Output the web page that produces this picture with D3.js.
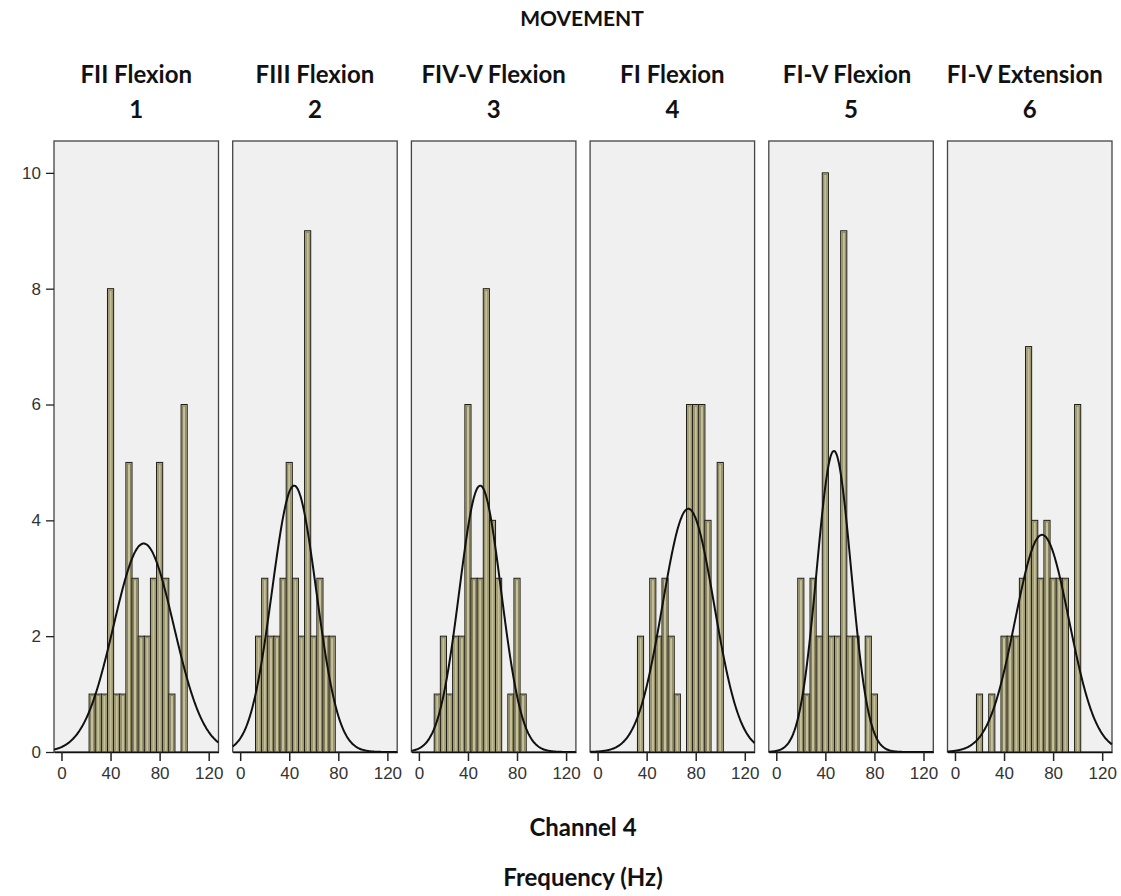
<!DOCTYPE html>
<html><head><meta charset="utf-8">
<script src="https://cdn.jsdelivr.net/npm/d3@7"></script>
<style>body{margin:0;background:#fff}</style>
</head><body>
<svg id="chart" width="1121" height="896"></svg>
<script>
// ---- data ----
const categories = ["FII Flexion","FIII Flexion","FIV-V Flexion","FI Flexion","FI-V Flexion","FI-V Extension"];
const movementCodes = ["1","2","3","4","5","6"];
const binStarts = [12.5,17.5,22.5,27.5,32.5,37.5,42.5,47.5,52.5,57.5,62.5,67.5,72.5,77.5,82.5,87.5,92.5,97.5];
const binWidth = 5;
const counts1 = [0,0,1,1,1,8,1,1,5,3,2,2,3,5,3,1,0,6];
const counts2 = [2,3,2,2,3,5,3,2,9,2,3,2,2,0,0,0,0,0];
const counts3 = [1,2,1,2,2,6,3,3,8,4,3,0,1,3,1,0,0,0];
const counts4 = [0,0,0,0,2,0,3,2,3,2,1,0,6,6,6,4,0,5];
const counts5 = [0,3,1,3,2,10,2,2,9,2,2,0,2,1,0,0,0,0];
const counts6 = [0,1,0,1,0,2,2,2,3,7,4,3,4,3,3,3,0,6];
const curveMeans = [67,44,50,74,47,71];
const curveSDs = [24.5,18,17,21,14,22];
const curvePeaks = [3.6,4.6,4.6,4.2,5.2,3.75];
const xTicks = [0,40,80,120];
const yTicks = [0,2,4,6,8,10];
const title = "MOVEMENT", xTitle1 = "Channel 4", xTitle2 = "Frequency (Hz)";

const allCounts = [counts1,counts2,counts3,counts4,counts5,counts6];

// ---- layout ----
const svg = d3.select("#chart");
const left0 = 54, step = 178.7, pw = 164.5, plotTop = 141, plotBottom = 752;
const y = d3.scaleLinear().domain([0,10.55]).range([plotBottom, plotTop]);
const boldFont = "Lato, 'Open Sans', sans-serif";
const tickFont = "'Liberation Sans', Arial, sans-serif";

svg.append("text").attr("x",582).attr("y",26).attr("text-anchor","middle")
  .attr("font-family",boldFont).attr("font-weight","bold").attr("font-size",21).attr("fill","#111").text(title);
svg.append("text").attr("x",583).attr("y",836).attr("text-anchor","middle")
  .attr("font-family",boldFont).attr("font-weight","bold").attr("font-size",24).attr("fill","#111").text(xTitle1);
svg.append("text").attr("x",583).attr("y",886).attr("text-anchor","middle")
  .attr("font-family",boldFont).attr("font-weight","bold").attr("font-size",24).attr("fill","#111").text(xTitle2);

const titleShift = [0,0,0,0,-4,-5];
categories.forEach((cat,i)=>{
  const x0 = left0 + i*step;
  const x = d3.scaleLinear().domain([-6.1,128]).range([x0, x0+pw]);
  const g = svg.append("g");
  // frame
  g.append("rect").attr("x",x0).attr("y",plotTop).attr("width",pw).attr("height",plotBottom-plotTop)
    .attr("fill","#f0f0f0").attr("stroke","#444").attr("stroke-width",1.3);
  // bars
  const data = binStarts.map((b,k)=>({x0:b, x1:b+binWidth, c:allCounts[i][k]})).filter(d=>d.c>0);
  g.selectAll("rect.bar").data(data).enter().append("rect").attr("class","bar")
    .attr("x",d=>x(d.x0)).attr("y",d=>y(d.c)).attr("width",d=>x(d.x1)-x(d.x0)).attr("height",d=>y(0)-y(d.c))
    .attr("fill","#c6c19c").attr("stroke","#1c1c14").attr("stroke-width",1);
  g.selectAll("rect.inner").data(data).enter().append("rect").attr("class","inner")
    .attr("x",d=>x(d.x0)+1.5).attr("y",d=>y(d.c)+1.5).attr("width",d=>x(d.x1)-x(d.x0)-3).attr("height",d=>y(0)-y(d.c)-1.5)
    .attr("fill","none").attr("stroke","#858058").attr("stroke-width",1);
  // normal curve
  const m = curveMeans[i], s = curveSDs[i], p = curvePeaks[i];
  const pts = d3.range(-6.1,128.01,0.5).map(v=>[v, p*Math.exp(-((v-m)**2)/(2*s*s))]);
  g.append("path").datum(pts).attr("fill","none").attr("stroke","#111").attr("stroke-width",2)
    .attr("d", d3.line().x(d=>x(d[0])).y(d=>y(d[1])).curve(d3.curveBasis));
  // x axis
  const xa = g.append("g").attr("transform",`translate(0,${plotBottom})`)
    .call(d3.axisBottom(x).tickValues(xTicks).tickSize(9).tickSizeOuter(0).tickPadding(6));
  xa.select(".domain").attr("stroke","#111").attr("stroke-width",1.5);
  xa.selectAll(".tick line").attr("stroke","#222").attr("stroke-width",1.5);
  xa.selectAll("text").attr("font-family",tickFont).attr("font-size",17).attr("fill","#333");
  // titles
  const cx = x0 + pw/2 + titleShift[i];
  g.append("text").attr("x",cx).attr("y",83).attr("text-anchor","middle")
    .attr("font-family",boldFont).attr("font-weight","bold").attr("font-size",24).attr("fill","#111").text(cat);
  g.append("text").attr("x",x0 + pw/2).attr("y",118).attr("text-anchor","middle")
    .attr("font-family",boldFont).attr("font-weight","bold").attr("font-size",24).attr("fill","#111").text(movementCodes[i]);
});

// y axis
const ya = svg.append("g").attr("transform",`translate(${left0},0)`)
  .call(d3.axisLeft(y).tickValues(yTicks).tickSize(8).tickSizeOuter(0).tickPadding(5));
ya.select(".domain").remove();
ya.selectAll(".tick line").attr("stroke","#222").attr("stroke-width",1.3);
ya.selectAll("text").attr("font-family",tickFont).attr("font-size",17).attr("fill","#333");
</script>
</body></html>
